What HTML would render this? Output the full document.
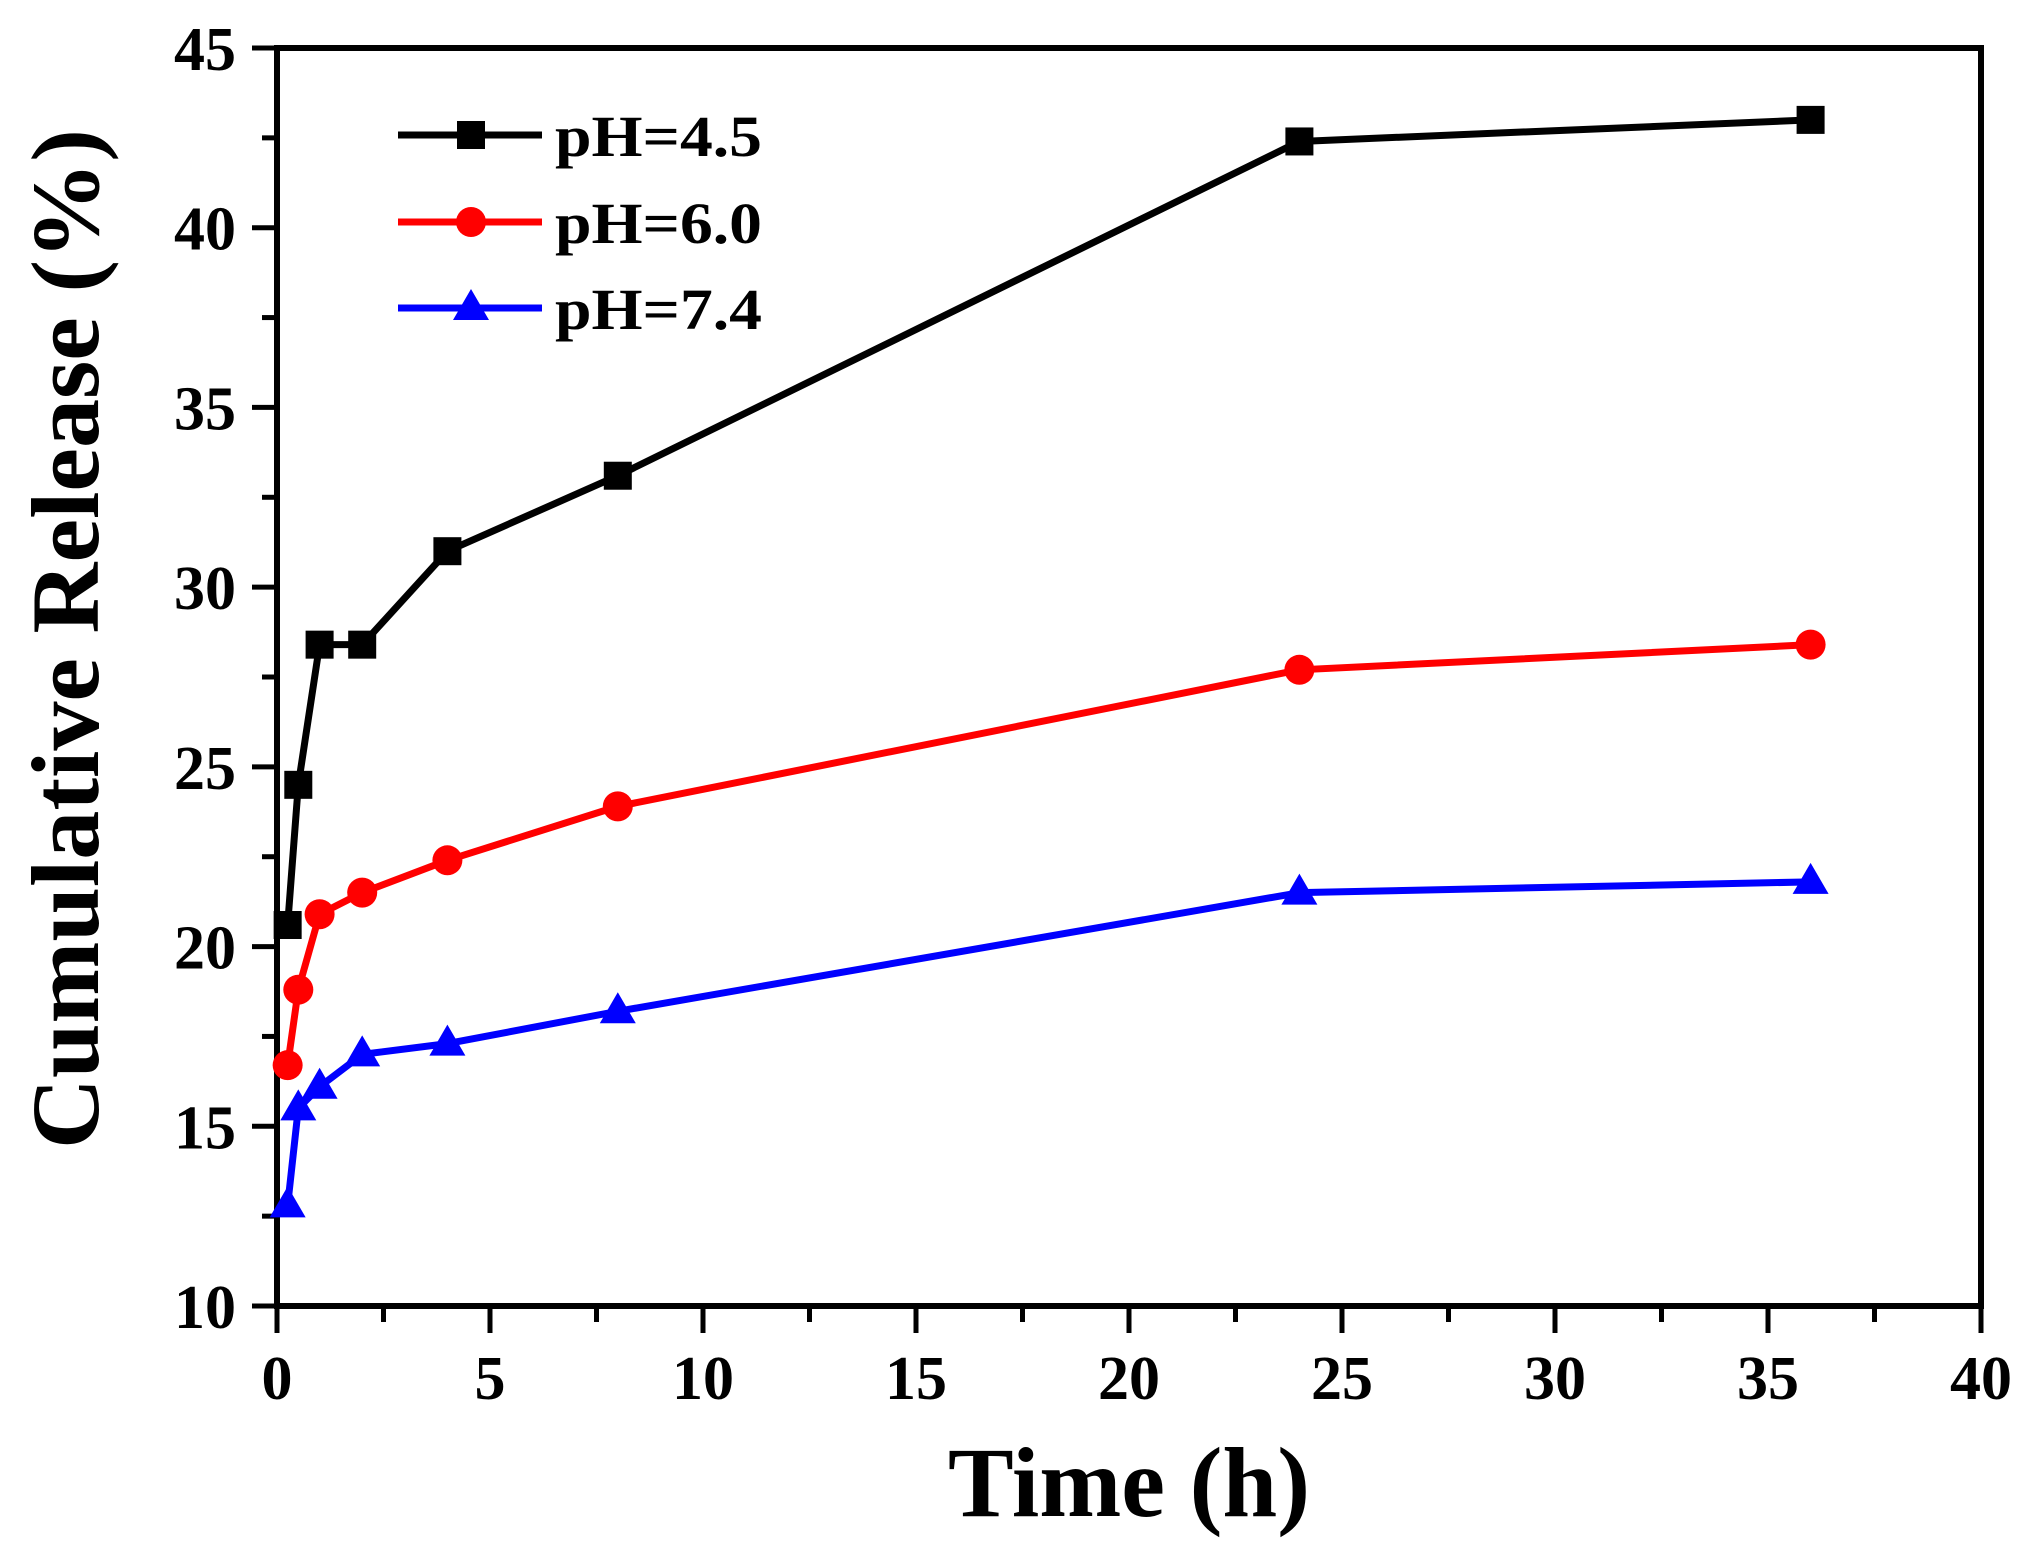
<!DOCTYPE html>
<html><head><meta charset="utf-8"><style>
html,body{margin:0;padding:0;background:#fff;}
svg{display:block;}
text{font-family:"Liberation Serif",serif;font-weight:bold;}
</style></head><body>
<svg width="2023" height="1553" viewBox="0 0 2023 1553" xmlns="http://www.w3.org/2000/svg">
<g id="axes" stroke="#000" stroke-width="6" fill="none">
<rect x="277" y="48" width="1704" height="1258"/>
</g>
<g stroke="#000" stroke-width="5" id="ticks"></g>
<g id="ticklabels" font-size="62" text-anchor="middle"></g>
<g id="series"></g>
<text x="1129" y="1516" font-size="100" text-anchor="middle" textLength="362" lengthAdjust="spacingAndGlyphs">Time (h)</text>
<text transform="translate(98,639) rotate(-90)" font-size="96" text-anchor="middle" textLength="1020" lengthAdjust="spacingAndGlyphs">Cumulative Release (%)</text>
<g font-size="58">
<line x1="398" y1="135" x2="542" y2="135" stroke="#000" stroke-width="7"/>
<rect x="457" y="121" width="28" height="28" fill="#000"/>
<text x="555" y="156" textLength="207" lengthAdjust="spacingAndGlyphs">pH=4.5</text>
<line x1="398" y1="222" x2="542" y2="222" stroke="#f00" stroke-width="7"/>
<circle cx="471" cy="222" r="15" fill="#f00"/>
<text x="555" y="243" textLength="207" lengthAdjust="spacingAndGlyphs">pH=6.0</text>
<line x1="398" y1="308" x2="542" y2="308" stroke="#00f" stroke-width="7"/>
<polygon points="471,289 453,320 489,320" fill="#00f"/>
<text x="555" y="329" textLength="207" lengthAdjust="spacingAndGlyphs">pH=7.4</text>
</g>
<script>
var X=function(v){return 277+v*(1704/40);},Y=function(v){return 1306-(v-10)*(1258/35);};
var ns="http://www.w3.org/2000/svg";
function el(p,t,a){var e=document.createElementNS(ns,t);for(var k in a)e.setAttribute(k,a[k]);p.appendChild(e);return e;}
var tk=document.getElementById("ticks"),tl=document.getElementById("ticklabels");
for(var i=0;i<=16;i++){var v=i*2.5,x=X(v),maj=i%2==0;el(tk,"line",{x1:x,y1:1306,x2:x,y2:maj?1333:1322});
if(maj){var t=el(tl,"text",{x:x,y:1399});t.textContent=v;}}
for(var i=0;i<=14;i++){var v=10+i*2.5,y=Y(v),maj=i%2==0;el(tk,"line",{x1:277,y1:y,x2:maj?252:262,y2:y});
if(maj){var t=el(tl,"text",{x:205,y:y+22});t.textContent=v;}}
var xs=[0.25,0.5,1,2,4,8,24,36];
var S=[["#000","s",[20.6,24.5,28.4,28.4,31,33.1,42.4,43]],["#f00","c",[16.7,18.8,20.9,21.5,22.4,23.9,27.7,28.4]],["#00f","t",[12.8,15.5,16.1,17,17.3,18.2,21.5,21.8]]];
var sg=document.getElementById("series");
S.forEach(function(s){var pts=xs.map(function(x,i){return X(x)+","+Y(s[2][i]);}).join(" ");
el(sg,"polyline",{points:pts,fill:"none",stroke:s[0],"stroke-width":7,"stroke-linejoin":"round"});
xs.forEach(function(x,i){var cx=X(x),cy=Y(s[2][i]);
if(s[1]=="s")el(sg,"rect",{x:cx-14,y:cy-14,width:28,height:28,fill:s[0]});
else if(s[1]=="c")el(sg,"circle",{cx:cx,cy:cy,r:15,fill:s[0]});
else el(sg,"polygon",{points:(cx)+","+(cy-19)+" "+(cx-18)+","+(cy+12)+" "+(cx+18)+","+(cy+12),fill:s[0]});});});
</script>
</svg>
</body></html>
